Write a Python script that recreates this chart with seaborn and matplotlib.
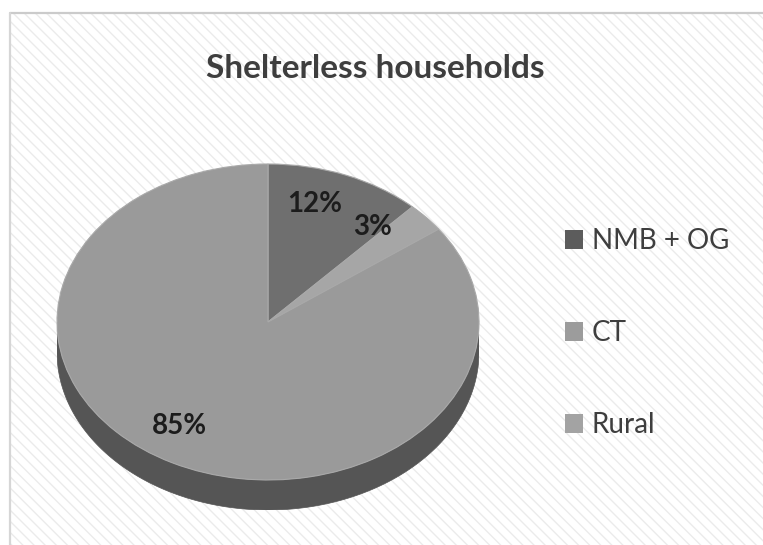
import numpy as np
import matplotlib
matplotlib.use("Agg")
import matplotlib.pyplot as plt
import seaborn as sns
from matplotlib.patches import Polygon, Rectangle, Patch
from matplotlib.lines import Line2D

# --- data ---------------------------------------------------------------
categories = ["NMB + OG", "CT", "Rural"]
shares = [12, 3, 85]
pct_labels = ["12%", "3%", "85%"]
title_text = "Shelterless households"

# --- style ----------------------------------------------------------------
top_colors = ["#6f6f6f", "#a6a6a6", "#9a9a9a"]
side_colors = ["#474747", "#6a6a6a", "#555555"]
legend_colors = ["#5c5c5c", "#9c9c9c", "#a3a3a3"]

sns.set_theme(style="white")
plt.rcParams["font.family"] = ["Lato", "DejaVu Sans"]
plt.rcParams["hatch.linewidth"] = 1.0

W, H = 763, 545
fig = plt.figure(figsize=(W / 100, H / 100), dpi=100)
fig.patch.set_facecolor("white")

def fx(px):
    return px / W

def fy(py):
    return 1 - py / H

# chart area with a faint diagonal texture
bg = Rectangle((fx(10), 0), 1, fy(13), transform=fig.transFigure,
               facecolor="white", edgecolor="#ebebeb", hatch="\\\\\\",
               linewidth=0, zorder=0)
fig.add_artist(bg)
fig.add_artist(Line2D([fx(10), 1], [fy(13), fy(13)], transform=fig.transFigure,
                      color="#cbcbcb", linewidth=1.6, zorder=1))
fig.add_artist(Line2D([fx(10), fx(10)], [0, fy(13)], transform=fig.transFigure,
                      color="#d6d6d6", linewidth=1.6, zorder=1))

# --- tilted pie ----------------------------------------------------------
depth = 0.19  # thickness of the pie rim, in top-face radii
ax = fig.add_axes([fx(57), fy(510), fx(479) - fx(57), fy(164) - fy(510)])
ax.set_facecolor("none")

fractions = np.array(shares, dtype=float) / np.sum(shares)
start = 90.0
bounds = []
for f in fractions:
    end = start - 360.0 * f
    bounds.append((end, start))
    start = end

# front rim: the visible part lies between 180 and 360 degrees
for (lo, hi), col in zip(bounds, side_colors):
    for shift in (-360.0, 0.0, 360.0):
        a = max(lo + shift, -180.0)
        b = min(hi + shift, 0.0)
        if b > a:
            t = np.radians(np.linspace(a, b, 200))
            xs = np.cos(t)
            ys = np.sin(t)
            pts = np.column_stack([np.r_[xs, xs[::-1]],
                                   np.r_[ys, ys[::-1] - depth]])
            ax.add_patch(Polygon(pts, closed=True, facecolor=col,
                                 edgecolor=col, linewidth=0.5, zorder=1))

wedges, _ = ax.pie(shares, colors=top_colors, startangle=90, counterclock=False,
                   wedgeprops=dict(linewidth=0.8, edgecolor="#a9a9a9"))
for w in wedges:
    w.set_zorder(2)

# percentage labels, placed along each wedge's bisector
label_radius = [0.77, 0.77, 0.77]
label_nudge = [(-0.06, 0.03), (-0.08, 0.09), (-0.07, 0.03)]
for (lo, hi), txt, r, (dx, dy) in zip(bounds, pct_labels, label_radius, label_nudge):
    mid = np.radians((lo + hi) / 2)
    ax.text(r * np.cos(mid) + dx, r * np.sin(mid) + dy, txt,
            ha="center", va="center", fontsize=20, fontweight="bold",
            color="#1c1c1c", zorder=3)

ax.set_aspect("auto")
ax.set_xlim(-1, 1)
ax.set_ylim(-1 - depth, 1)
ax.axis("off")

# --- title and legend ----------------------------------------------------
fig.text(fx(375), fy(78), title_text, ha="center", va="baseline",
         fontsize=24, fontweight="bold", color="#3e3e3e")

handles = [Patch(facecolor=c, edgecolor="none") for c in legend_colors]
leg = fig.legend(handles, categories, loc="center left",
                 bbox_to_anchor=(fx(565), fy(333)), frameon=False,
                 fontsize=20, handlelength=0.65, handleheight=0.68,
                 handletextpad=0.32, labelspacing=2.38, borderpad=0,
                 borderaxespad=0)
for t in leg.get_texts():
    t.set_color("#3e3e3e")

fig.savefig("out.png", dpi=100, facecolor="white")
